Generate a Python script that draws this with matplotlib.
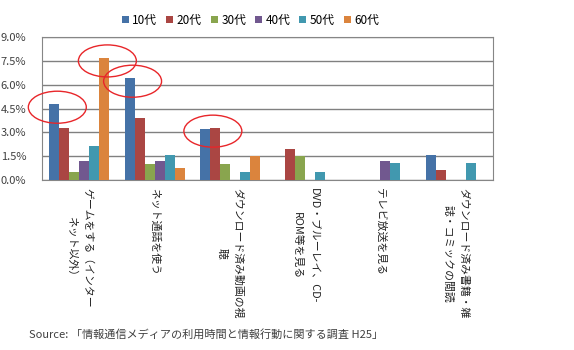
import numpy as np
import matplotlib
matplotlib.use("Agg")
import matplotlib.pyplot as plt
from matplotlib.patches import Ellipse

plt.rcParams['font.family'] = ['Noto Sans CJK JP', 'DejaVu Sans']

categories = [
    "ゲームをする（インター\nネット以外）",
    "ネット通話を使う",
    "ダウンロード済み動画の視\n聴",
    "DVD・ブルーレイ、CD-\nROM等を見る",
    "テレビ放送を見る",
    "ダウンロード済み書籍・雑\n誌・コミックの閲読",
]
series_names = ["10代", "20代", "30代", "40代", "50代", "60代"]
teens = [4.79, 6.43, 3.24, 0, 0, 1.6]
twenties = [3.28, 3.91, 3.28, 1.95, 0, 0.65]
thirties = [0.5, 1.01, 1.01, 1.51, 0, 0]
forties = [1.2, 1.2, 0, 0, 1.2, 0]
fifties = [2.14, 1.58, 0.5, 0.5, 1.09, 1.09]
sixties = [7.71, 0.76, 1.51, 0, 0, 0]
yticks = [0, 1.5, 3.0, 4.5, 6.0, 7.5, 9.0]
# (category, series) pairs circled in red
highlights = [[(0, 0)], [(0, 5)], [(1, 0)], [(2, 0), (2, 1)]]

colors = ["#4572A7", "#AA4643", "#89A54E", "#71588F", "#4198AF", "#DB843D"]
values = [teens, twenties, thirties, forties, fifties, sixties]

fig = plt.figure(figsize=(5.74, 3.5), dpi=100)
ax = fig.add_axes([41.7 / 574, 1 - 180 / 350, 451.6 / 574, 142.7 / 350])

x = np.arange(len(categories))
bw = 0.133
for i, (name, vals) in enumerate(zip(series_names, values)):
    ax.bar(x + (i - 2.5) * bw, vals, bw, color=colors[i], label=name, zorder=3)

ax.set_xlim(-0.5, len(categories) - 0.5)
ax.set_ylim(0, 9.0)
ax.set_yticks(yticks)
ax.set_yticklabels([f"{v:.1f}%" for v in yticks], fontsize=8, color="#404040")
ax.yaxis.set_tick_params(length=0, pad=11)
ax.grid(axis="y", color="#808080", linewidth=1, zorder=1)
for s in ax.spines.values():
    s.set_color("#868686")
ax.set_xticks(x)
ax.set_xticklabels(categories, rotation=-90, fontsize=7.8, color="#222222",
                   va="top", ha="center", multialignment="center",
                   linespacing=1.75)
ax.xaxis.set_tick_params(length=0, pad=6)

for group in highlights:
    xs = [x[c] + (s - 2.5) * bw for c, s in group]
    top = max(values[s][c] for c, s in group)
    ax.add_patch(Ellipse((np.mean(xs) + 0.04, top - 0.2), 0.77, 2.02, fill=False,
                         edgecolor="#E8262A", linewidth=1, zorder=4, clip_on=False))

fig.legend(loc="upper left", bbox_to_anchor=(111 / 574, 1 - 3 / 350), ncol=6,
           frameon=False, fontsize=8.5, handlelength=0.6, handleheight=0.6,
           handletextpad=0.3, columnspacing=0.75)

fig.text(29 / 574, 1 - 334 / 350, "Source: 「情報通信メディアの利用時間と情報行動に関する調査 H25」",
         fontsize=8, color="#404040", va="center")

fig.savefig("out.png", dpi=100)
